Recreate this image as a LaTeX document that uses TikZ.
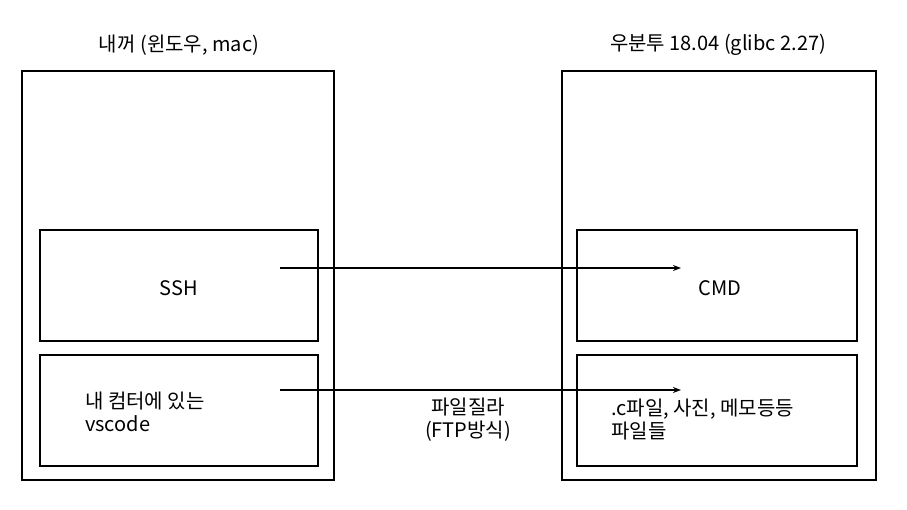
\documentclass[tikz,border=0pt]{standalone}
\usepackage{fontspec}
\setmainfont{Noto Sans CJK KR}
\usetikzlibrary{arrows.meta}
\begin{document}
\begin{tikzpicture}[x=1pt,y=-1pt,
  box/.style={draw=black,line width=2pt,rectangle,inner sep=0pt},
  lbl/.style={font=\fontsize{20}{23}\selectfont,inner sep=0pt},
  conn/.style={line width=1.4pt,-{Stealth[length=8pt,width=6pt]}}]
\useasboundingbox (0,0) rectangle (907,510);
\fill[white] (0,0) rectangle (907,510);
% outer boxes
\node[box,minimum width=312pt,minimum height=409pt] (L) at (178,275.5) {};
\node[box,minimum width=314pt,minimum height=409pt] (R) at (718.5,275.5) {};
% titles
\node[lbl] (tL) at (179,45) {내꺼 (윈도우, mac)};
\node[lbl] (tR) at (718,45) {우분투 18.04 (glibc 2.27)};
% inner boxes
\node[box,minimum width=278pt,minimum height=111pt] (ssh) at (179,285.5) {};
\node[box,minimum width=278pt,minimum height=111pt] (vs) at (179,410.5) {};
\node[box,minimum width=280pt,minimum height=111pt] (cmd) at (717,285.5) {};
\node[box,minimum width=280pt,minimum height=111pt] (files) at (717,410.5) {};
% texts
\node[lbl] (tssh) at (179,288) {SSH};
\node[lbl] (tcmd) at (720,288) {CMD};
\node[lbl,align=left,anchor=west] (tvs) at (85,412) {내 컴터에 있는\\vscode};
\node[lbl,align=left,anchor=west] (tfiles) at (611,420) {.c파일, 사진, 메모등등\\파일들};
\node[lbl,align=center] (tftp) at (468,420) {파일질라\\(FTP방식)};
% connectors
\coordinate (a1) at (280,268);
\coordinate (b1) at (681,268);
\coordinate (a2) at (280,390);
\coordinate (b2) at (681,390);
\draw[conn] (a1) -- (b1);
\draw[conn] (a2) -- (b2);
\end{tikzpicture}
\end{document}
